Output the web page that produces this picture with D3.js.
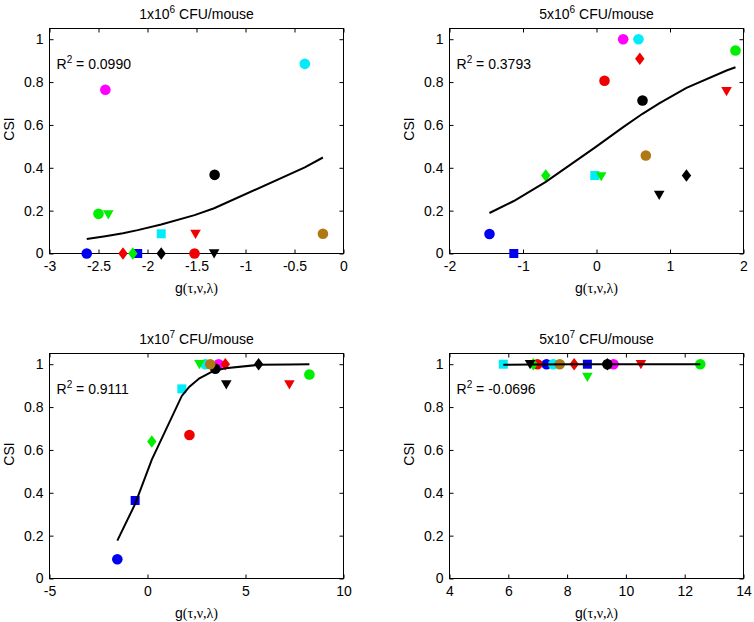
<!DOCTYPE html>
<html>
<head>
<meta charset="utf-8">
<script src="https://cdn.jsdelivr.net/npm/d3@7"></script>
<style>
body { margin: 0; background: #fff; }
text { font-family: "Liberation Sans", Arial, Helvetica, sans-serif; }
</style>
</head>
<body>
<script>
// 15 strains, same order in every panel:
// blue o, blue s, cyan o, cyan s, magenta o, green o, green d, green v,
// red o, red d, red v, black o, black d, black v, brown o
const strainColors = ['#0000f0', '#0000f0', '#00ecf8', '#00ecf8', '#ff00ff', '#00ee00', '#00ee00', '#00ee00',
  '#f00000', '#f00000', '#f00000', '#000000', '#000000', '#000000', '#b07812'];
const strainShapes = ['o', 's', 'o', 's', 'o', 'o', 'd', 'v', 'o', 'd', 'v', 'o', 'd', 'v', 'o'];

const doseTitles = [['1x10', '6'], ['5x10', '6'], ['1x10', '7'], ['5x10', '7']];
const r2Labels = ['0.0990', '0.3793', '0.9111', '-0.0696'];

const yTicks = [0, 0.2, 0.4, 0.6, 0.8, 1];

// 1x10^6 CFU/mouse
const xTicks1e6 = [-3, -2.5, -2, -1.5, -1, -0.5, 0];
const g1e6 = [-2.62, -2.10, -0.395, -1.86, -2.43, -2.50, -2.15, -2.40, -1.52, -2.25, -1.51, -1.315, -1.86, -1.32, -0.21];
const csi1e6 = [0, 0, 0.885, 0.092, 0.764, 0.185, 0, 0.182, 0, 0, 0.091, 0.367, 0, 0, 0.092];
const fitG1e6 = [-2.62, -2.43, -2.25, -2.10, -1.86, -1.52, -1.32, -0.395, -0.21];
const fitCsi1e6 = [0.068, 0.081, 0.095, 0.109, 0.135, 0.179, 0.211, 0.402, 0.448];

// 5x10^6 CFU/mouse
const xTicks5e6 = [-2, -1, 0, 1, 2];
const g5e6 = [-1.456, -1.125, 0.571, -0.023, 0.363, 1.891, -0.69, 0.064, 0.109, 0.589, 1.769, 0.626, 1.224, 0.853, 0.671];
const csi5e6 = [0.091, 0, 1.0, 0.364, 1.0, 0.947, 0.364, 0.36, 0.806, 0.909, 0.757, 0.714, 0.364, 0.273, 0.457];
const fitG5e6 = [-1.456, -1.125, -0.69, -0.023, 0.109, 0.363, 0.626, 0.853, 1.224, 1.769, 1.891];
const fitCsi5e6 = [0.189, 0.245, 0.334, 0.494, 0.527, 0.590, 0.652, 0.701, 0.773, 0.854, 0.869];

// 1x10^7 CFU/mouse
const xTicks1e7 = [-5, 0, 5, 10];
const g1e7 = [-1.54, -0.63, 2.95, 1.75, 3.63, 8.26, 0.22, 2.65, 2.14, 3.97, 7.24, 3.46, 5.67, 4.02, 3.2];
const csi1e7 = [0.09, 0.364, 1.0, 0.885, 1.0, 0.952, 0.639, 1.0, 0.67, 1.0, 0.905, 0.979, 1.0, 0.905, 1.0];
const fitG1e7 = [-1.54, -0.63, 0.22, 1.75, 2.14, 2.65, 3.2, 3.46, 3.97, 5.67, 7.24, 8.26];
const fitCsi1e7 = [0.177, 0.348, 0.555, 0.852, 0.895, 0.934, 0.961, 0.970, 0.981, 0.997, 0.999, 1.0];

// 5x10^7 CFU/mouse
const xTicks5e7 = [4, 6, 8, 10, 12, 14];
const g5e7 = [7.30, 8.69, 7.53, 5.83, 9.58, 12.53, 6.85, 8.69, 6.99, 8.24, 10.51, 9.37, 9.37, 6.74, 7.75];
const csi5e7 = [1, 1, 1, 1, 1, 1, 1, 0.94, 1, 1, 1, 1, 1, 1, 1];
const fitG5e7 = [5.83, 6.85, 8.24, 9.58, 12.53];
const fitCsi5e7 = [0.997, 0.999, 1.0, 1.0, 1.0];

const panels = [
  { box: { left: 49.5, right: 343.5, top: 28.5, bottom: 253.5 }, title: doseTitles[0], r2: r2Labels[0],
    xDomain: [-3, 0], xTicks: xTicks1e6, xs: g1e6, ys: csi1e6, fx: fitG1e6, fy: fitCsi1e6 },
  { box: { left: 449.5, right: 743.5, top: 28.5, bottom: 253.5 }, title: doseTitles[1], r2: r2Labels[1],
    xDomain: [-2, 2], xTicks: xTicks5e6, xs: g5e6, ys: csi5e6, fx: fitG5e6, fy: fitCsi5e6 },
  { box: { left: 49.5, right: 343.5, top: 353.5, bottom: 578.5 }, title: doseTitles[2], r2: r2Labels[2],
    xDomain: [-5, 10], xTicks: xTicks1e7, xs: g1e7, ys: csi1e7, fx: fitG1e7, fy: fitCsi1e7 },
  { box: { left: 449.5, right: 743.5, top: 353.5, bottom: 578.5 }, title: doseTitles[3], r2: r2Labels[3],
    xDomain: [4, 14], xTicks: xTicks5e7, xs: g5e7, ys: csi5e7, fx: fitG5e7, fy: fitCsi5e7 }
];

// drawing order of the strains (later ones sit on top)
const drawOrder = [0, 1, 2, 3, 4, 5, 8, 6, 7, 9, 10, 11, 12, 13, 14];

const svg = d3.select('body').append('svg').attr('width', 754).attr('height', 622);
const fontSize = 14;

panels.forEach(p => drawPanel(svg, p));

function markerPath(shape) {
  if (shape === 'o') return d3.symbol(d3.symbolCircle, Math.PI * 5.3 * 5.3)();
  if (shape === 's') return 'M-4.5,-4.5H4.5V4.5H-4.5Z';
  if (shape === 'd') return 'M0,-6.3L4.7,0L0,6.3L-4.7,0Z';
  return 'M-5.3,-4.2L5.3,-4.2L0,5Z';
}

function styleAxis(sel) {
  sel.select('.domain').remove();
  sel.attr('font-size', fontSize).attr('font-family', '"Liberation Sans", Arial, Helvetica, sans-serif');
  sel.selectAll('line').attr('stroke', '#000');
  sel.selectAll('text').attr('fill', '#000');
}

function drawPanel(svg, p) {
  const b = p.box;
  const x = d3.scaleLinear().domain(p.xDomain).range([b.left, b.right]);
  const y = d3.scaleLinear().domain([0, 1.05]).range([b.bottom, b.top]);
  const g = svg.append('g');
  const fmt = d => String(d);

  g.append('g').attr('transform', `translate(0,${b.bottom})`)
    .call(d3.axisBottom(x).tickValues(p.xTicks).tickFormat(fmt).tickSizeInner(-4).tickSizeOuter(0).tickPadding(8))
    .call(styleAxis);
  g.append('g').attr('transform', `translate(0,${b.top})`)
    .call(d3.axisTop(x).tickValues(p.xTicks).tickFormat('').tickSizeInner(-4).tickSizeOuter(0))
    .call(styleAxis);
  g.append('g').attr('transform', `translate(${b.left},0)`)
    .call(d3.axisLeft(y).tickValues(yTicks).tickFormat(fmt).tickSizeInner(-4).tickSizeOuter(0).tickPadding(6))
    .call(styleAxis);
  g.append('g').attr('transform', `translate(${b.right},0)`)
    .call(d3.axisRight(y).tickValues(yTicks).tickFormat('').tickSizeInner(-4).tickSizeOuter(0))
    .call(styleAxis);

  g.append('rect')
    .attr('x', b.left).attr('y', b.top)
    .attr('width', b.right - b.left).attr('height', b.bottom - b.top)
    .attr('fill', 'none').attr('stroke', '#000').attr('stroke-width', 1);

  // markers
  g.append('g').selectAll('path')
    .data(drawOrder.map(i => ({ gx: p.xs[i], csi: p.ys[i], i: i })))
    .join('path')
    .attr('transform', d => `translate(${x(d.gx)},${y(d.csi)})`)
    .attr('d', d => markerPath(strainShapes[d.i]))
    .attr('fill', d => strainColors[d.i]);

  // fitted curve
  const line = d3.line().x(d => x(d[0])).y(d => y(d[1]));
  g.append('path')
    .datum(p.fx.map((v, i) => [v, p.fy[i]]))
    .attr('d', line)
    .attr('fill', 'none').attr('stroke', '#000').attr('stroke-width', 2);

  // title
  const cx = (b.left + b.right) / 2;
  const t = g.append('text').attr('x', cx).attr('y', b.top - 10)
    .attr('text-anchor', 'middle').attr('font-size', fontSize);
  t.append('tspan').text(p.title[0]);
  t.append('tspan').attr('dy', -6).attr('font-size', 10).text(p.title[1]);
  t.append('tspan').attr('dy', 6).text(' CFU/mouse');

  // R^2
  const r = g.append('text').attr('x', b.left + 7).attr('y', b.top + 40).attr('font-size', fontSize);
  r.append('tspan').text('R');
  r.append('tspan').attr('dy', -6).attr('font-size', 10).text('2');
  r.append('tspan').attr('dy', 6).text(' = ' + p.r2);

  // x label
  const xl = g.append('text').attr('x', cx).attr('y', b.bottom + 39)
    .attr('text-anchor', 'middle').attr('font-size', fontSize);
  xl.append('tspan').text('g');
  xl.append('tspan').attr('font-family', '"Liberation Serif", "Times New Roman", serif').text('(τ,ν,λ)');

  // y label
  const cy = (b.top + b.bottom) / 2 - 12;
  g.append('text')
    .attr('transform', `translate(${b.left - 36},${cy}) rotate(-90)`)
    .attr('text-anchor', 'middle').attr('font-size', fontSize)
    .text('CSI');
}
</script>
</body>
</html>
